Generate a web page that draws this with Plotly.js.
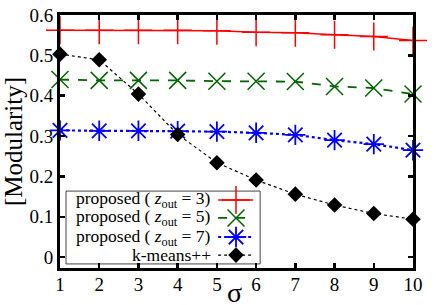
<!DOCTYPE html>
<html>
<head>
<meta charset="utf-8">
<script src="https://cdn.plot.ly/plotly-3.0.1.min.js"></script>
<style>html,body{margin:0;padding:0;background:#fff;}#chart{width:436px;height:305px;}</style>
</head>
<body>
<div id="chart"></div>
<script>
// ---- data ----
const sigma = [1, 2, 3, 4, 5, 6, 7, 8, 9, 10];
const proposedZ3 = [0.562, 0.562, 0.562, 0.562, 0.561, 0.557, 0.556, 0.551, 0.547, 0.537];
const proposedZ5 = [0.440, 0.438, 0.438, 0.438, 0.436, 0.436, 0.435, 0.423, 0.419, 0.404];
const proposedZ7 = [0.314, 0.313, 0.313, 0.312, 0.311, 0.308, 0.303, 0.290, 0.280, 0.265];
const kmeans = [0.503, 0.489, 0.404, 0.304, 0.234, 0.191, 0.156, 0.129, 0.108, 0.094];
const seriesNames = ['proposed ( <i>z</i><sub>out</sub> = 3)', 'proposed ( <i>z</i><sub>out</sub> = 5)', 'proposed ( <i>z</i><sub>out</sub> = 7)', 'k-means++'];
const xTicks = [1, 2, 3, 4, 5, 6, 7, 8, 9, 10];
const yTicks = [0, 0.1, 0.2, 0.3, 0.4, 0.5, 0.6];
const yTickLabels = ['0', '0.1', '0.2', '0.3', '0.4', '0.5', '0.6'];

const styles = [
  {color: 'red', dash: 'solid', width: 1.5, symbol: 'cross-thin-open', size: 20, mlw: 1.5},
  {color: '#006400', dash: 'dash', width: 1.8, symbol: 'x-thin-open', size: 17, mlw: 1.5},
  {color: 'blue', dash: 'dot', width: 2.2, symbol: 'asterisk-open', size: 17, mlw: 1.8},
  {color: 'black', dash: 'dot', width: 1.2, symbol: 'diamond', size: 12, mlw: 0}
];
const values = [proposedZ3, proposedZ5, proposedZ7, kmeans];

const traces = values.map((v, i) => ({
  x: sigma, y: v, type: 'scatter', mode: 'lines+markers', cliponaxis: false,
  showlegend: false,
  line: {color: styles[i].color, dash: styles[i].dash, width: styles[i].width},
  marker: {symbol: styles[i].symbol, size: styles[i].size, color: styles[i].color,
           line: {color: styles[i].color, width: styles[i].mlw}}
}));

// custom legend (symbols on the right of the text)
const legRows = [0.269, 0.198, 0.1225, 0.051];
const legX0 = 0.448, legX1 = 0.547, legXc = 0.4986;
legRows.forEach((ry, i) => {
  traces.push({
    x: [legX0, legX1], y: [ry, ry], xaxis: 'x2', yaxis: 'y2', type: 'scatter', mode: 'lines',
    showlegend: false, hoverinfo: 'skip', cliponaxis: false,
    line: {color: styles[i].color, dash: styles[i].dash, width: styles[i].width}
  });
  traces.push({
    x: [legXc], y: [ry], xaxis: 'x2', yaxis: 'y2', type: 'scatter', mode: 'markers',
    showlegend: false, hoverinfo: 'skip', cliponaxis: false,
    marker: {symbol: styles[i].symbol, size: styles[i].size, color: styles[i].color,
             line: {color: styles[i].color, width: styles[i].mlw}}
  });
});

const font = '"Liberation Serif", "Times New Roman", serif';
const annotations = legRows.map((ry, i) => ({
  xref: 'paper', yref: 'paper', x: 0.433, y: ry, xanchor: 'right', yanchor: 'middle',
  text: seriesNames[i], showarrow: false, font: {family: font, size: 17.5, color: 'black'}
}));
annotations.push({
  xref: 'paper', yref: 'paper', x: 0.495, y: -0.098, xanchor: 'center', yanchor: 'middle',
  text: 'σ', showarrow: false, font: {family: font, size: 28, color: 'black'}
});

const layout = {
  width: 436, height: 305,
  margin: {l: 60, r: 23, t: 15, b: 37},
  paper_bgcolor: 'white', plot_bgcolor: 'white',
  font: {family: font, color: 'black', size: 19},
  showlegend: false,
  xaxis: {
    range: [1, 10], tickvals: xTicks, ticks: 'inside', ticklen: 5, tickwidth: 2.5,
    tickcolor: 'black', mirror: 'ticks', showline: true, linewidth: 3, linecolor: 'black',
    showgrid: false, zeroline: false, tickfont: {family: font, size: 19},
    ticklabelstandoff: -3
  },
  yaxis: {
    range: [-0.027, 0.6], tickvals: yTicks, ticktext: yTickLabels, ticks: 'inside', ticklen: 5,
    tickwidth: 2.5, tickcolor: 'black', mirror: 'ticks', showline: true, linewidth: 3,
    linecolor: 'black', showgrid: false, zeroline: false, tickfont: {family: font, size: 19},
    title: {text: '[Modularity]', font: {family: font, size: 25}, standoff: 2}
  },
  xaxis2: {domain: [0, 1], range: [0, 1], visible: false, overlaying: 'x', fixedrange: true},
  yaxis2: {domain: [0, 1], range: [0, 1], visible: false, overlaying: 'y', fixedrange: true},
  shapes: [{type: 'rect', xref: 'paper', yref: 'paper', x0: 0.017, x1: 0.567, y0: 0.016, y1: 0.304,
            line: {color: '#444', width: 1}, fillcolor: 'white', layer: 'below'}],
  annotations: annotations
};

Plotly.newPlot('chart', traces, layout, {displayModeBar: false, staticPlot: true});
</script>
</body>
</html>
